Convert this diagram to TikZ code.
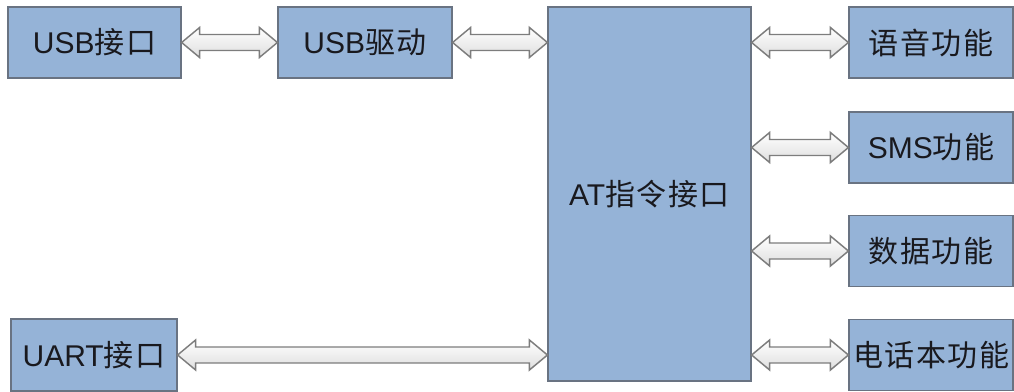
\documentclass[tikz,border=0pt]{standalone}
\usepackage{fontspec}
\setmainfont{Liberation Sans}
\newfontfamily\cjk[LetterSpace=5]{Noto Sans CJK SC}
\usetikzlibrary{calc}
\definecolor{boxfill}{RGB}{149,179,215}
\definecolor{boxline}{RGB}{105,115,130}
\definecolor{arrline}{RGB}{125,125,125}
\definecolor{arrbot}{RGB}{222,222,222}
\definecolor{txt}{RGB}{25,25,30}
\newcommand\zh[1]{{\cjk #1}}
% double block arrow from #1 (left end) to #2 (right end)
\newcommand\dblarrow[2]{%
  \path[blockarr] let \p1=(#1), \p2=(#2) in
    (\x1,\y1) -- (\x1+13.5pt,\y1+11.25pt) -- (\x1+13.5pt,\y1+6pt)
    -- (\x2-13.5pt,\y1+6pt) -- (\x2-13.5pt,\y1+11.25pt) -- (\x2,\y1)
    -- (\x2-13.5pt,\y1-11.25pt) -- (\x2-13.5pt,\y1-6pt)
    -- (\x1+13.5pt,\y1-6pt) -- (\x1+13.5pt,\y1-11.25pt) -- cycle;}
\begin{document}
\begin{tikzpicture}[x=0.75pt,y=-0.75pt,
  box/.style={draw=boxline,fill=boxfill,line width=0.9pt,inner sep=0pt,
    text=txt,font=\fontsize{22.5}{25}\selectfont,
    minimum width=164*0.75pt,minimum height=71*0.75pt},
  blockarr/.style={draw=arrline,line width=1.1pt,top color=white,bottom color=arrbot,line join=miter}]
\useasboundingbox (0,0) rectangle (1014,392);
\node[box,minimum width=173*0.75pt] (usbif) at (94.5,42.5) {USB\zh{接口}};
\node[box,minimum width=174*0.75pt] (usbdrv) at (365,42.5) {USB\zh{驱动}};
\node[box,minimum width=203*0.75pt,minimum height=374*0.75pt] (at) at (649.5,194) {AT\zh{指令接口}};
\node[box] (voice) at (931,42.5) {\zh{语音功能}};
\node[box] (sms) at (931,147.5) {SMS\zh{功能}};
\node[box] (data) at (931,251) {\zh{数据功能}};
\node[box] (phone) at (931,355) {\zh{电话本功能}};
\node[box,minimum width=166*0.75pt,minimum height=72*0.75pt] (uart) at (94,355) {UART\zh{接口}};
\dblarrow{usbif.east}{usbdrv.west}
\dblarrow{usbdrv.east}{at.west |- usbdrv.east}
\dblarrow{uart.east}{at.west |- uart.east}
\dblarrow{at.east |- voice.west}{voice.west}
\dblarrow{at.east |- sms.west}{sms.west}
\dblarrow{at.east |- data.west}{data.west}
\dblarrow{at.east |- phone.west}{phone.west}
\end{tikzpicture}
\end{document}
